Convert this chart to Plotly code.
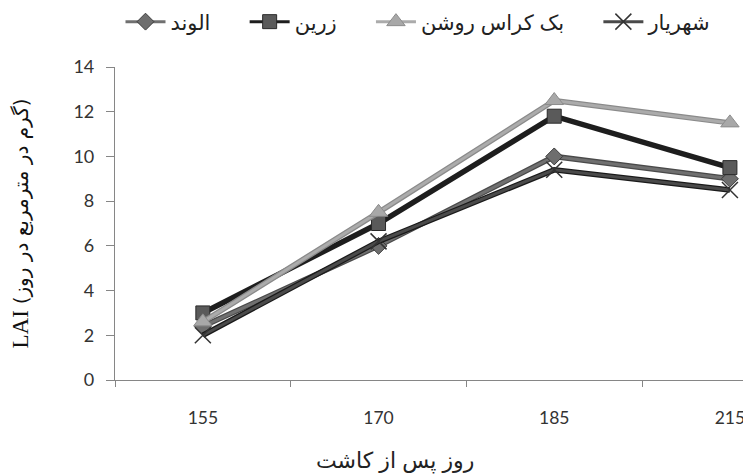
import plotly.graph_objects as go

days = ["155", "170", "185", "215"]
alvand = [2.4, 6.0, 10.0, 9.0]
zarin = [3.0, 7.0, 11.8, 9.5]
bak_kras = [2.6, 7.5, 12.5, 11.5]
shahriyar = [2.0, 6.2, 9.4, 8.5]
names = ["الوند", "زرین", "بک کراس روشن", "شهریار"]

styles = [
    ("diamond", 13, "#6e6e6e", "#3a3a3a", "#707070", "#4a4a4a"),
    ("square", 14, "#5a5a5a", "#2a2a2a", "#1e1e1e", "#1e1e1e"),
    ("triangle-up", 16, "#a8a8a8", "#8c8c8c", "#ababab", "#8a8a8a"),
    ("x-thin", 16, "#333333", "#333333", "#4a4a4a", "#1a1a1a"),
]
values = [alvand, zarin, bak_kras, shahriyar]

PAD = "\u00a0" * 5

fig = go.Figure()
for name, vals, (sym, size, mcol, mline, lcol, ucol) in zip(names, values, styles):
    fig.add_trace(go.Scatter(
        x=days, y=vals, mode="lines", line=dict(color=ucol, width=5.5),
        showlegend=False, hoverinfo="skip", legendgroup=name))
    fig.add_trace(go.Scatter(
        x=days, y=vals, mode="lines+markers", name=name + PAD, legendgroup=name,
        line=dict(color=lcol, width=3),
        marker=dict(symbol=sym, size=size, color=mcol,
                    line=dict(color=mline, width=1.5 if sym == "x-thin" else 1))))

fig.add_annotation(text="روز پس از کاشت", xref="paper", yref="paper",
                   x=(387 - 107) / 636, y=-(461 - 8 - 372) / 313,
                   xanchor="center", yanchor="middle", showarrow=False,
                   font=dict(family="Liberation Sans, DejaVu Sans, sans-serif", size=22, color="#222222"))

fig.update_layout(
    width=751, height=475,
    margin=dict(l=107, r=8, t=59, b=103, autoexpand=False),
    paper_bgcolor="white", plot_bgcolor="white",
    font=dict(family="Lato, DejaVu Sans, sans-serif", size=18, color="#333333"),
    legend=dict(orientation="h", x=(425 - 107) / 636, xanchor="center",
                yref="container", y=1 - 14 / 475, yanchor="middle",
                font=dict(family="Liberation Sans, DejaVu Sans, sans-serif", size=21, color="#222222"),
                itemwidth=40, traceorder="normal"),
    xaxis=dict(type="category", range=[-0.5, 3.12], tickson="boundaries",
               ticks="outside", ticklen=6, tickcolor="#868686",
               showline=True, linecolor="#868686", linewidth=1.2,
               showgrid=False, zeroline=False, automargin=False,
               ticklabelstandoff=22,
               tickfont=dict(size=17.5, color="#333333")),
    yaxis=dict(range=[0, 14], dtick=2, ticks="outside", ticklen=8, tickcolor="#868686",
               showline=True, linecolor="#868686", linewidth=1.2,
               showgrid=False, zeroline=False, automargin=False,
               ticklabelstandoff=8,
               tickfont=dict(size=18, color="#333333"),
               title=dict(text="LAI <span style='font-size:20px;font-family:DejaVu Sans'>(گرم در مترمربع در روز)</span>",
                          font=dict(family="Liberation Serif, serif", size=23, color="#111111"),
                          standoff=40)),
)

fig.write_html("out.html")
